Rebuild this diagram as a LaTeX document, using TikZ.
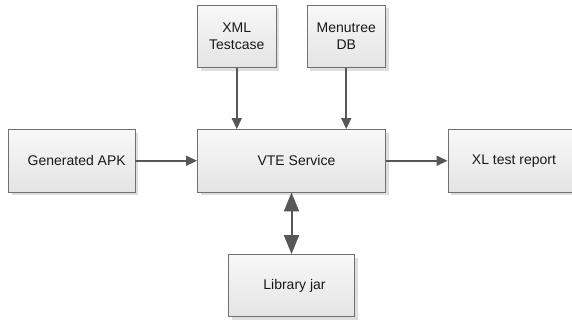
\documentclass[tikz,border=0pt]{standalone}
\usepackage{fontspec}
\setmainfont{Liberation Sans}
\usetikzlibrary{arrows.meta,shadows}
\definecolor{edgecol}{HTML}{707070}
\definecolor{arrcol}{HTML}{575757}
\definecolor{boxtop}{HTML}{F8F8F8}
\definecolor{boxbot}{HTML}{E4E4E4}
\tikzset{
  box/.style={draw=edgecol, line width=0.9pt, top color=boxtop, bottom color=boxbot,
    minimum height=62.5pt, align=center, inner sep=2pt,
    font=\fontsize{14}{17}\selectfont, text=black!90,
    drop shadow={shadow xshift=3pt, shadow yshift=-3pt, fill=black, opacity=0.13}},
  textshift/.style={execute at begin node={\hspace*{#1}}},
  flow/.style={draw=arrcol, line width=1.6pt, -{Triangle[length=11pt,width=10pt]}, arrcol},
  bothflow/.style={draw=arrcol, line width=2pt, {Triangle[length=19pt,width=15pt]}-{Triangle[length=19pt,width=15pt]}, arrcol}
}
\begin{document}
\begin{tikzpicture}[x=1pt,y=-1pt]
\useasboundingbox[fill=white] (0,0) rectangle (572,322);
\node[box, minimum width=126.5pt, textshift=10pt] (apk) at (71.75,160.75) {Generated APK};
\node[box, minimum width=188pt, textshift=10pt] (vte) at (291.5,160.75) {VTE Service};
\node[box, minimum width=130pt, textshift=2pt] (xl) at (513,160.75) {XL test report};
\node[box, minimum width=78.5pt] (xml) at (236.75,36.25) {XML\\Testcase};
\node[box, minimum width=78.5pt] (menu) at (346.25,36.25) {Menutree\\DB};
\node[box, minimum width=126pt, minimum height=62pt, textshift=6pt] (lib) at (291.5,285.5) {Library jar};
\draw[flow] (xml.south) -- (xml.south |- vte.north);
\draw[flow] (menu.south) -- (menu.south |- vte.north);
\draw[flow] (apk.east) -- (vte.west);
\draw[flow] (vte.east) -- (xl.west);
\draw[bothflow] (vte.south) -- (lib.north);
\end{tikzpicture}
\end{document}
